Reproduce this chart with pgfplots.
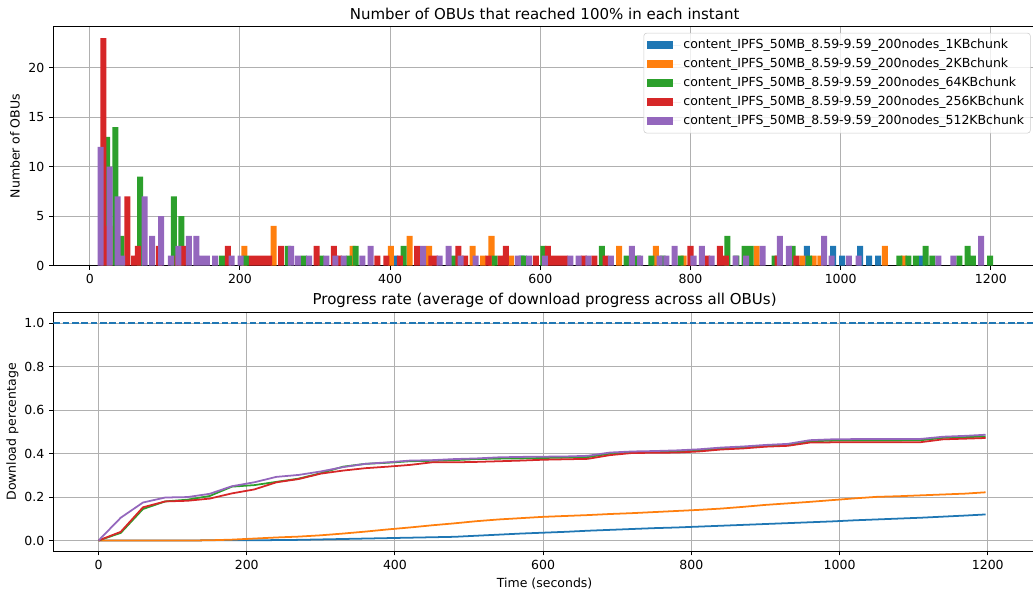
\documentclass[border=0pt]{standalone}
\usepackage{pgfplots}
\pgfplotsset{compat=1.18}
\usepackage{fontspec}
\setmainfont{DejaVu Sans}
\definecolor{c0}{HTML}{1F77B4}
\definecolor{c1}{HTML}{FF7F0E}
\definecolor{c2}{HTML}{2CA02C}
\definecolor{c3}{HTML}{D62728}
\definecolor{c4}{HTML}{9467BD}
\definecolor{gridc}{HTML}{B0B0B0}
\definecolor{legc}{HTML}{CCCCCC}
\newcommand{\fs}{\fontsize{9}{10.8}\selectfont}
\newcommand{\ft}{\fontsize{10.8}{13}\selectfont}
\begin{document}
\begin{tikzpicture}
\useasboundingbox (-38.4pt,19.2pt) rectangle (705.4pt,-409.1pt);
\pgfplotsset{
  every axis title/.style={at={(0.5,1)}, anchor=base, yshift=5.5pt, font=\ft},
  every axis/.append style={
    scale only axis, width=707.5pt, height=172pt,
    anchor=north west,
    axis line style={line width=0.68pt, black},
    tick align=outside, xtick pos=left, ytick pos=left,
    major tick length=2.97pt,
    every tick/.style={line width=0.68pt, black},
    grid=major,
    major grid style={line width=0.68pt, gridc},
    tick label style={font=\fs},
    /pgf/number format/assume math mode=true,
    /pgf/number format/1000 sep={},
    label style={font=\fs},
    xtick={0,200,...,1200},
  }
}
% ---------------- top axis ----------------
\begin{axis}[
  at={(0pt,0pt)},
  xmin=-48.5, xmax=1260, ymin=0, ymax=24.15,
  ytick={0,5,10,15,20},
  title={Number of OBUs that reached 100\% in each instant},
  ylabel={Number of OBUs},
  ylabel style={at={(axis description cs:-0.039,0.5)}, anchor=center},
  ybar, bar width=8,
  legend style={at={(1,1)}, anchor=north east, xshift=-3.8pt, yshift=-4.5pt,
    draw=legc, rounded corners=2pt, fill=white, fill opacity=0.8, text opacity=1,
    font=\fs, row sep=1.3pt, inner sep=2.5pt},
  legend cell align=left,
  legend image code/.code={\fill[#1, sharp corners, fill opacity=1] (0pt,-2.9pt) rectangle (18.7pt,2.9pt);
    \path (0pt,0pt) -- (24pt,0pt);},
]
\addplot[fill=c0, draw=none, bar shift=0pt] coordinates {
(407,1) (575,1) (955,2) (990,2) (1002,1) (1026,2) (1038,1) (1050,1) (1108,1)
};
\addlegendentry{content\_IPFS\_50MB\_8.59-9.59\_200nodes\_1KBchunk}
\addplot[fill=c1, draw=none, bar shift=0pt] coordinates {
(206,2) (245,4) (350,2) (401,2) (426,3) (452,2) (510,2) (524,1) (535,3) (561,1)
(705,2) (754,2) (791,1) (888,2) (949,1) (964,1) (973,1) (1059,2) (1084,1)
};
\addlegendentry{content\_IPFS\_50MB\_8.59-9.59\_200nodes\_2KBchunk}
\addplot[fill=c2, draw=none, bar shift=0pt] coordinates {
(23,13) (34,14) (42,3) (67,9) (112,7) (122,5) (176,1) (208,1) (264,2) (285,1)
(308,1) (345,1) (354,2) (418,2) (485,1) (539,1) (578,1) (604,2) (682,2) (715,1)
(730,1) (748,1) (763,1) (787,1) (849,3) (861,1) (872,2) (880,2) (912,1) (936,2)
(958,1) (1078,1) (1090,1) (1100,1) (1113,2) (1122,1) (1158,1) (1169,2) (1176,1) (1199,1)
};
\addlegendentry{content\_IPFS\_50MB\_8.59-9.59\_200nodes\_64KBchunk}
\addplot[fill=c3, draw=none, bar shift=0pt] coordinates {
(18,23) (26,4) (50,7) (59,1) (64,2) (92,2) (117,1) (125,2) (184,2) (216,1)
(223,1) (231,1) (239,1) (255,2) (302,2) (325,2) (332,1) (383,1) (395,1) (413,1)
(436,2) (455,1) (460,1) (491,2) (500,1) (531,1) (547,1) (554,2) (594,1) (610,2)
(618,1) (626,1) (633,1) (658,1) (672,1) (687,1) (800,2) (822,1) (839,2) (847,1)
(916,1) (941,1)
};
\addlegendentry{content\_IPFS\_50MB\_8.59-9.59\_200nodes\_256KBchunk}
\addplot[fill=c4, draw=none, bar shift=0pt] coordinates {
(14.6,12) (26.6,10) (37,7) (43,1) (73,7) (83,3) (95,5) (108,1) (118,2) (132,3)
(142,3) (150,1) (156,1) (167,1) (189,1) (201,1) (268,2) (277,1) (292,1) (315,1)
(327,1) (338,1) (363,1) (374,2) (444,2) (466,1) (478,2) (494,1) (514,1) (570,1)
(585,1) (606,1) (640,1) (651,1) (664,1) (694,1) (722,2) (733,1) (759,1) (768,1)
(779,2) (804,1) (815,2) (828,1) (860,1) (874,1) (896,2) (919,3) (931,2) (978,3)
(988,1) (1011,1) (1024,1) (1130,1) (1150,1) (1187,3)
};
\addlegendentry{content\_IPFS\_50MB\_8.59-9.59\_200nodes\_512KBchunk}
\end{axis}
% ---------------- bottom axis ----------------
\begin{axis}[
  at={(0pt,-205.8pt)},
  xmin=-61, xmax=1265, ymin=-0.05, ymax=1.05,
  ytick={0,0.2,0.4,0.6,0.8,1.0},
  yticklabel style={/pgf/number format/.cd, fixed, fixed zerofill, precision=1},
  title={Progress rate (average of download progress across all OBUs)},
  ylabel={Download percentage},
  ylabel style={at={(axis description cs:-0.0417,0.5)}, anchor=center},
  xlabel={Time (seconds)},
  xlabel style={at={(axis description cs:0.5,-0.1329)}, anchor=center},
  every axis plot/.append style={line width=1.27pt},
]
\addplot[c0, dash pattern=on 4.7pt off 2.04pt] coordinates {(-61,1) (1265,1)};
\addplot[c0] coordinates {
(0,0) (30,0) (60,0) (90,0) (120,0) (150,0.001) (180,0.001) (210,0.001) (240,0.002)
(270,0.003) (300,0.005) (330,0.007) (360,0.009) (390,0.011) (420,0.013) (450,0.015)
(480,0.017) (510,0.022) (540,0.027) (570,0.032) (600,0.036) (630,0.040) (660,0.045)
(690,0.049) (720,0.053) (750,0.057) (780,0.060) (810,0.064) (840,0.068) (870,0.072)
(900,0.076) (930,0.080) (960,0.084) (990,0.088) (1020,0.093) (1050,0.097) (1080,0.101)
(1110,0.105) (1140,0.110) (1170,0.115) (1197,0.120)
};
\addplot[c1] coordinates {
(0,0) (30,0) (60,0) (90,0) (120,0) (150,0.001) (180,0.004) (210,0.009) (240,0.014)
(270,0.018) (300,0.024) (330,0.032) (360,0.041) (390,0.051) (420,0.060) (450,0.070)
(480,0.079) (510,0.089) (540,0.097) (570,0.103) (600,0.109) (630,0.113) (660,0.117)
(690,0.122) (720,0.126) (750,0.131) (780,0.136) (810,0.141) (840,0.147) (870,0.155)
(900,0.164) (930,0.171) (960,0.178) (990,0.186) (1020,0.194) (1050,0.201) (1080,0.204)
(1110,0.208) (1140,0.212) (1170,0.216) (1197,0.222)
};
\addplot[c2] coordinates {
(0,0) (30,0.035) (60,0.145) (90,0.180) (120,0.188) (150,0.205) (180,0.248) (210,0.255)
(240,0.270) (270,0.285) (300,0.310) (330,0.340) (360,0.353) (390,0.358) (420,0.365)
(450,0.367) (480,0.370) (510,0.375) (540,0.377) (570,0.378) (600,0.380) (630,0.382)
(660,0.384) (690,0.400) (720,0.406) (750,0.408) (780,0.410) (810,0.415) (840,0.423)
(870,0.428) (900,0.435) (930,0.440) (960,0.457) (990,0.460) (1020,0.461) (1050,0.461)
(1080,0.461) (1110,0.462) (1140,0.473) (1170,0.476) (1197,0.479)
};
\addplot[c3] coordinates {
(0,0) (30,0.040) (60,0.153) (90,0.180) (120,0.183) (150,0.193) (180,0.217) (210,0.235)
(240,0.268) (270,0.283) (300,0.308) (330,0.322) (360,0.333) (390,0.340) (420,0.348)
(450,0.360) (480,0.360) (510,0.362) (540,0.365) (570,0.368) (600,0.372) (630,0.374)
(660,0.376) (690,0.393) (720,0.403) (750,0.404) (780,0.405) (810,0.410) (840,0.419)
(870,0.424) (900,0.432) (930,0.436) (960,0.451) (990,0.452) (1020,0.452) (1050,0.452)
(1080,0.452) (1110,0.453) (1140,0.466) (1170,0.469) (1197,0.472)
};
\addplot[c4] coordinates {
(0,0) (30,0.105) (60,0.175) (90,0.198) (120,0.200) (150,0.215) (180,0.250) (210,0.268)
(240,0.293) (270,0.302) (300,0.318) (330,0.338) (360,0.353) (390,0.360) (420,0.368)
(450,0.370) (480,0.375) (510,0.378) (540,0.383) (570,0.385) (600,0.386) (630,0.387)
(660,0.390) (690,0.405) (720,0.410) (750,0.412) (780,0.415) (810,0.420) (840,0.428)
(870,0.433) (900,0.440) (930,0.445) (960,0.462) (990,0.466) (1020,0.467) (1050,0.467)
(1080,0.467) (1110,0.468) (1140,0.478) (1170,0.482) (1197,0.487)
};
\end{axis}
\end{tikzpicture}
\end{document}
